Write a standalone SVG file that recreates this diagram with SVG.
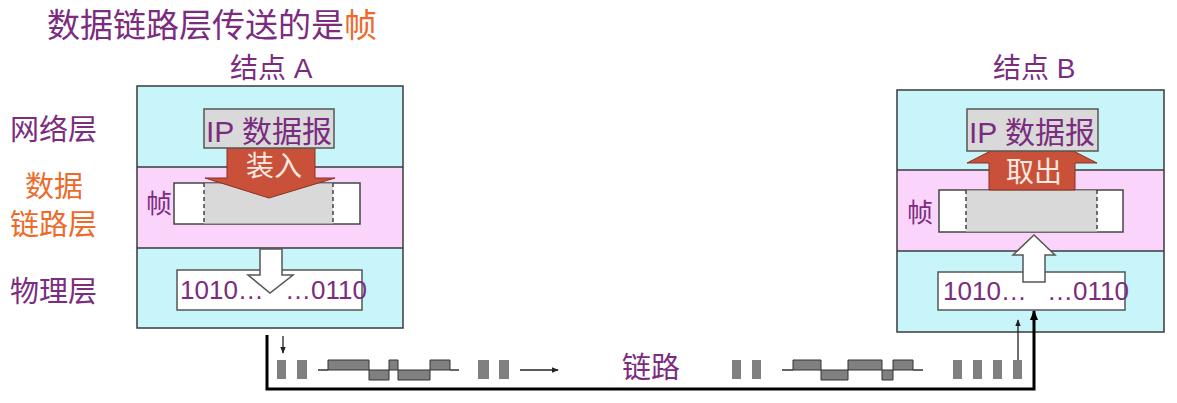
<svg xmlns="http://www.w3.org/2000/svg" width="1177" height="403" viewBox="0 0 1177 403">
<defs>
<style>
text{font-family:"Liberation Sans","Noto Sans CJK SC",sans-serif;}
.pur{fill:#7B2C7E;}
.org{fill:#EE6A2A;}
.cyan{fill:#C8F5FA;}
.pink{fill:#FAD4FA;}
.bnd{stroke:#3A3A3A;stroke-width:1.5;}
.frame{fill:#fff;stroke:#444;stroke-width:1.5;}
.gray{fill:#D9D9D9;}
.dash{stroke:#444;stroke-width:1.5;stroke-dasharray:4 3;}
.ip{fill:#D9D9D9;stroke:#555;stroke-width:1.5;}
.red{fill:#C9513A;stroke:#8B3020;stroke-width:1;}
.warr{fill:#fff;stroke:#555;stroke-width:1.5;}
.phy{fill:#fff;stroke:#555;stroke-width:1.5;}
.blk{fill:#808080;}
.wave{fill:#808080;stroke:#333;stroke-width:1;}
.thin{stroke:#222;stroke-width:1.3;fill:none;}
</style>
<marker id="ah" viewBox="0 0 10 10" refX="9" refY="5" markerWidth="7" markerHeight="7" markerUnits="userSpaceOnUse" orient="auto"><path d="M0,1 L10,5 L0,9 z" fill="#222"/></marker>
<marker id="ahb" viewBox="0 0 10 10" refX="9" refY="5" markerWidth="10" markerHeight="10" markerUnits="userSpaceOnUse" orient="auto"><path d="M0,1 L10,5 L0,9 z" fill="#000"/></marker>
</defs>
<rect width="1177" height="403" fill="#fff"/>
<g id="title">
<text x="47" y="37" font-size="33"><tspan class="pur">数据链路层传送的是</tspan><tspan class="org">帧</tspan></text>
</g>
<g id="layer-labels">
<text x="10" y="140" font-size="29" class="pur">网络层</text>
<text x="54" y="197" font-size="29" class="org" text-anchor="middle">数据</text>
<text x="10" y="235" font-size="29" class="org">链路层</text>
<text x="10" y="302" font-size="29" class="pur">物理层</text>
</g>
<g id="nodeA">
<text x="230" y="78" font-size="28" class="pur">结点 A</text>
<rect x="137" y="86" width="266" height="81" class="cyan"/>
<rect x="137" y="167" width="266" height="81" class="pink"/>
<rect x="137" y="248" width="266" height="80" class="cyan"/>
<line x1="137" y1="167" x2="403" y2="167" class="bnd"/>
<line x1="137" y1="248" x2="403" y2="248" class="bnd"/>
<rect x="137" y="86" width="266" height="242" fill="none" class="bnd" stroke-width="2"/>
<rect x="174" y="183" width="186" height="41" class="frame"/>
<rect x="204" y="183.5" width="129" height="40" class="gray"/>
<line x1="204" y1="183" x2="204" y2="224" class="dash"/>
<line x1="333" y1="183" x2="333" y2="224" class="dash"/>
<text x="146" y="213" font-size="26" class="pur">帧</text>
<polygon points="227,140 315,140 315,178 335,178 269,198 205,178 227,178" class="red"/>
<rect x="204" y="109" width="130" height="39" class="ip"/>
<text x="269" y="142" font-size="30" class="pur" text-anchor="middle">IP 数据报</text>
<text x="274" y="176" font-size="28" fill="#FBEAE2" text-anchor="middle">装入</text>
<rect x="177" y="270" width="185" height="40" class="phy"/>
<polygon points="260,249 282,249 282,275 293,275 270,293 248,275 260,275" class="warr"/>
<text x="180" y="299" font-size="26" class="pur">1010…</text>
<text x="367" y="299" font-size="26" class="pur" text-anchor="end">…0110</text>
</g>
<g id="nodeB">
<text x="993" y="78" font-size="28" class="pur">结点 B</text>
<rect x="897" y="90" width="267" height="80" class="cyan"/>
<rect x="897" y="170" width="267" height="81" class="pink"/>
<rect x="897" y="251" width="267" height="81" class="cyan"/>
<line x1="897" y1="170" x2="1164" y2="170" class="bnd"/>
<line x1="897" y1="251" x2="1164" y2="251" class="bnd"/>
<rect x="897" y="90" width="267" height="242" fill="none" class="bnd" stroke-width="2"/>
<rect x="939" y="190" width="184" height="42" class="frame"/>
<rect x="966" y="190.5" width="131" height="41" class="gray"/>
<line x1="966" y1="190" x2="966" y2="232" class="dash"/>
<line x1="1097" y1="190" x2="1097" y2="232" class="dash"/>
<text x="907" y="222" font-size="26" class="pur">帧</text>
<polygon points="989,190 1075,190 1075,163 1097,163 1032,130 967,163 989,163" class="red"/>
<rect x="967" y="109" width="131" height="42" class="ip"/>
<text x="1032" y="143" font-size="30" class="pur" text-anchor="middle">IP 数据报</text>
<text x="1034" y="182" font-size="28" fill="#FBEAE2" text-anchor="middle">取出</text>
<rect x="938" y="272" width="187" height="38" class="phy"/>
<polygon points="1023,282 1045,282 1045,255 1055,255 1034,235 1013,255 1023,255" class="warr"/>
<text x="943" y="300" font-size="26" class="pur">1010…</text>
<text x="1129" y="300" font-size="26" class="pur" text-anchor="end">…0110</text>
</g>
<g id="link">
<rect x="277" y="360" width="9" height="19" class="blk"/>
<rect x="297" y="360" width="10" height="19" class="blk"/>
<polyline points="318,370 328,370 328,360 369,360 369,380 389,380 389,360 398,360 398,380 430,380 430,360 450,360 450,370 459,370" class="wave"/>
<line x1="318" y1="370" x2="459" y2="370" stroke="#333" stroke-width="1"/>
<rect x="478" y="360" width="11" height="19" class="blk"/>
<rect x="499" y="360" width="10" height="19" class="blk"/>
<text x="651" y="378" font-size="29" class="pur" text-anchor="middle">链路</text>
<rect x="732" y="360" width="9" height="19" class="blk"/>
<rect x="752" y="360" width="9" height="19" class="blk"/>
<polyline points="782,370 793,370 793,360 821,360 821,380 848,380 848,360 882,360 882,380 893,380 893,360 913,360 913,370 923,370" class="wave"/>
<line x1="782" y1="370" x2="923" y2="370" stroke="#333" stroke-width="1"/>
<rect x="953" y="360" width="9" height="19" class="blk"/>
<rect x="973" y="360" width="9" height="19" class="blk"/>
<rect x="993" y="360" width="9" height="19" class="blk"/>
<rect x="1013" y="360" width="9" height="19" class="blk"/>
</g>
<g id="connectors">
<polyline points="267,335 267,389 1034,389 1034,311" fill="none" stroke="#000" stroke-width="3" marker-end="url(#ahb)"/>
<line x1="283" y1="336" x2="283" y2="353" class="thin" marker-end="url(#ah)"/>
<line x1="520" y1="370" x2="558" y2="370" class="thin" marker-end="url(#ah)"/>
<line x1="1018" y1="360" x2="1018" y2="320" class="thin" marker-end="url(#ah)"/>
</g>
</svg>
